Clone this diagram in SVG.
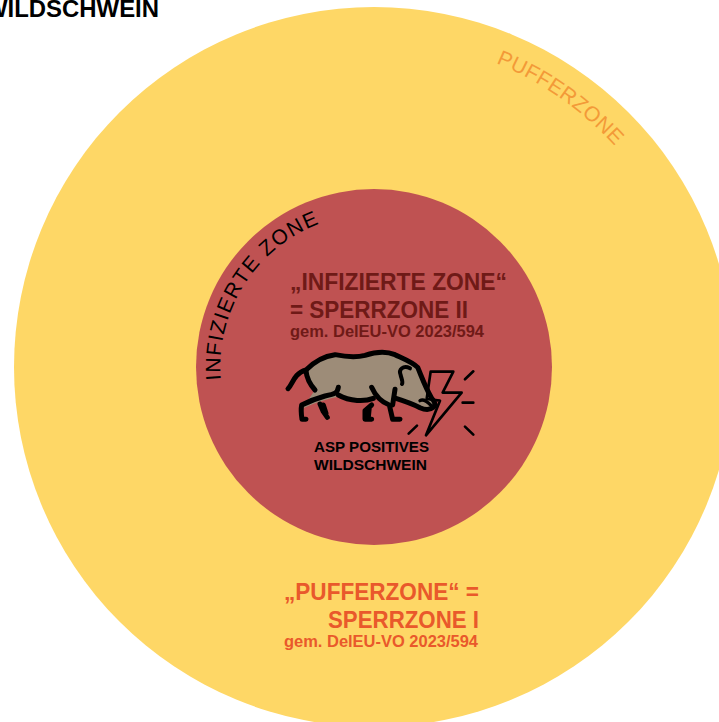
<svg xmlns="http://www.w3.org/2000/svg" width="719" height="722" viewBox="0 0 719 722">
<style>
text{font-family:"Liberation Sans",Arial,sans-serif}
.b{font-weight:700}
.l{font-size:24px}
.s{font-size:16px}
.t{font-size:15.500px}
.red{fill:#6f1a17}
.or{fill:#e9592b}
.arc{font-size:21px}
.ln{fill:none;stroke:#000;stroke-linecap:round;stroke-linejoin:round}
</style>
<defs>
<path id="pInf" d="M220.800 380A153.500 153.500 0 0 1 340 217.500"/>
<path id="pPuf" d="M496 63A327 327 0 0 1 625 158"/>
</defs>
<rect width="719" height="722" fill="#fff"/>
<g id="title"><text class="b" x="-15" y="17" font-size="24" textLength="174" lengthAdjust="spacingAndGlyphs">WILDSCHWEIN</text></g>
<g id="pufferzone">
<circle cx="374" cy="367" r="360" fill="#fed766"/>
<text class="arc" fill="#f39a38"><textPath href="#pPuf" textLength="146" lengthAdjust="spacing">PUFFERZONE</textPath></text>
<text class="b l or" x="284" y="600" textLength="195" lengthAdjust="spacingAndGlyphs">„PUFFERZONE“ =</text>
<text class="b l or" x="328" y="628" textLength="151" lengthAdjust="spacingAndGlyphs">SPERRZONE I</text>
<text class="b s or" x="284" y="647" textLength="194" lengthAdjust="spacingAndGlyphs">gem. DelEU-VO 2023/594</text>
</g>
<g id="infizierte-zone">
<circle cx="374" cy="367" r="178" fill="#bf5252"/>
<text class="arc"><textPath href="#pInf" textLength="198" lengthAdjust="spacing">INFIZIERTE ZONE</textPath></text>
<text class="b l red" x="290" y="290" textLength="217" lengthAdjust="spacingAndGlyphs">„INFIZIERTE ZONE“</text>
<text class="b l red" x="290" y="318" textLength="178" lengthAdjust="spacingAndGlyphs">= SPERRZONE II</text>
<text class="b s red" x="290" y="337" textLength="194" lengthAdjust="spacingAndGlyphs">gem. DelEU-VO 2023/594</text>
</g>
<g id="wildschwein">
<g transform="translate(270 330) scale(.3333)">
<path d="M108 122C135 92 165 78 195 74C225 80 255 84 285 76C310 68 345 62 375 74C405 88 430 98 443 112C455 140 465 170 485 205C495 215 498 225 490 232C480 240 465 240 450 233C425 220 400 212 378 205L372 225C345 215 325 205 310 200C280 212 240 215 205 200C180 205 140 215 100 235C110 215 125 195 135 180C120 165 110 140 108 122Z" fill="#9d8c78"/>
<g class="ln" stroke-width="15">
<path d="M54 176C68 165 70 130 108 120C135 92 165 78 195 74C225 80 255 84 285 76C310 68 345 62 375 74C405 88 430 98 443 112C455 140 465 170 485 205C495 215 498 225 490 232C480 240 465 240 450 233C425 220 400 212 378 205"/>
<path d="M108 122C110 145 122 165 135 180"/>
<path d="M205 172C202 190 195 192 165 198C140 205 115 215 95 225C92 240 94 255 96 268H108"/>
<path d="M205 195C240 215 285 215 310 205"/>
<path d="M305 172C315 195 330 215 358 225L368 268H390"/>
<path d="M375 178L368 225"/>
<path d="M150 222L160 245L172 262M160 225L168 250"/>
<path d="M305 225L285 242L285 268H305M298 232L295 262"/>
<path d="M420 115C400 105 385 118 392 135C394 145 400 155 396 162" stroke-width="12"/>
<path d="M450 212C462 205 475 218 485 228" stroke-width="10"/>
</g>
<g class="ln" stroke-width="8">
<path d="M470 207L482 125H550L518 188H575L468 316L510 212Z"/>
<path d="M585 148L610 124M578 218H610M585 290L610 314M416 311L441 287"/>
</g>
</g>
<text class="b t" x="314" y="452" textLength="115" lengthAdjust="spacingAndGlyphs">ASP POSITIVES</text>
<text class="b t" x="314" y="470" textLength="113" lengthAdjust="spacingAndGlyphs">WILDSCHWEIN</text>
</g>
<g id="connectors"/>
</svg>
